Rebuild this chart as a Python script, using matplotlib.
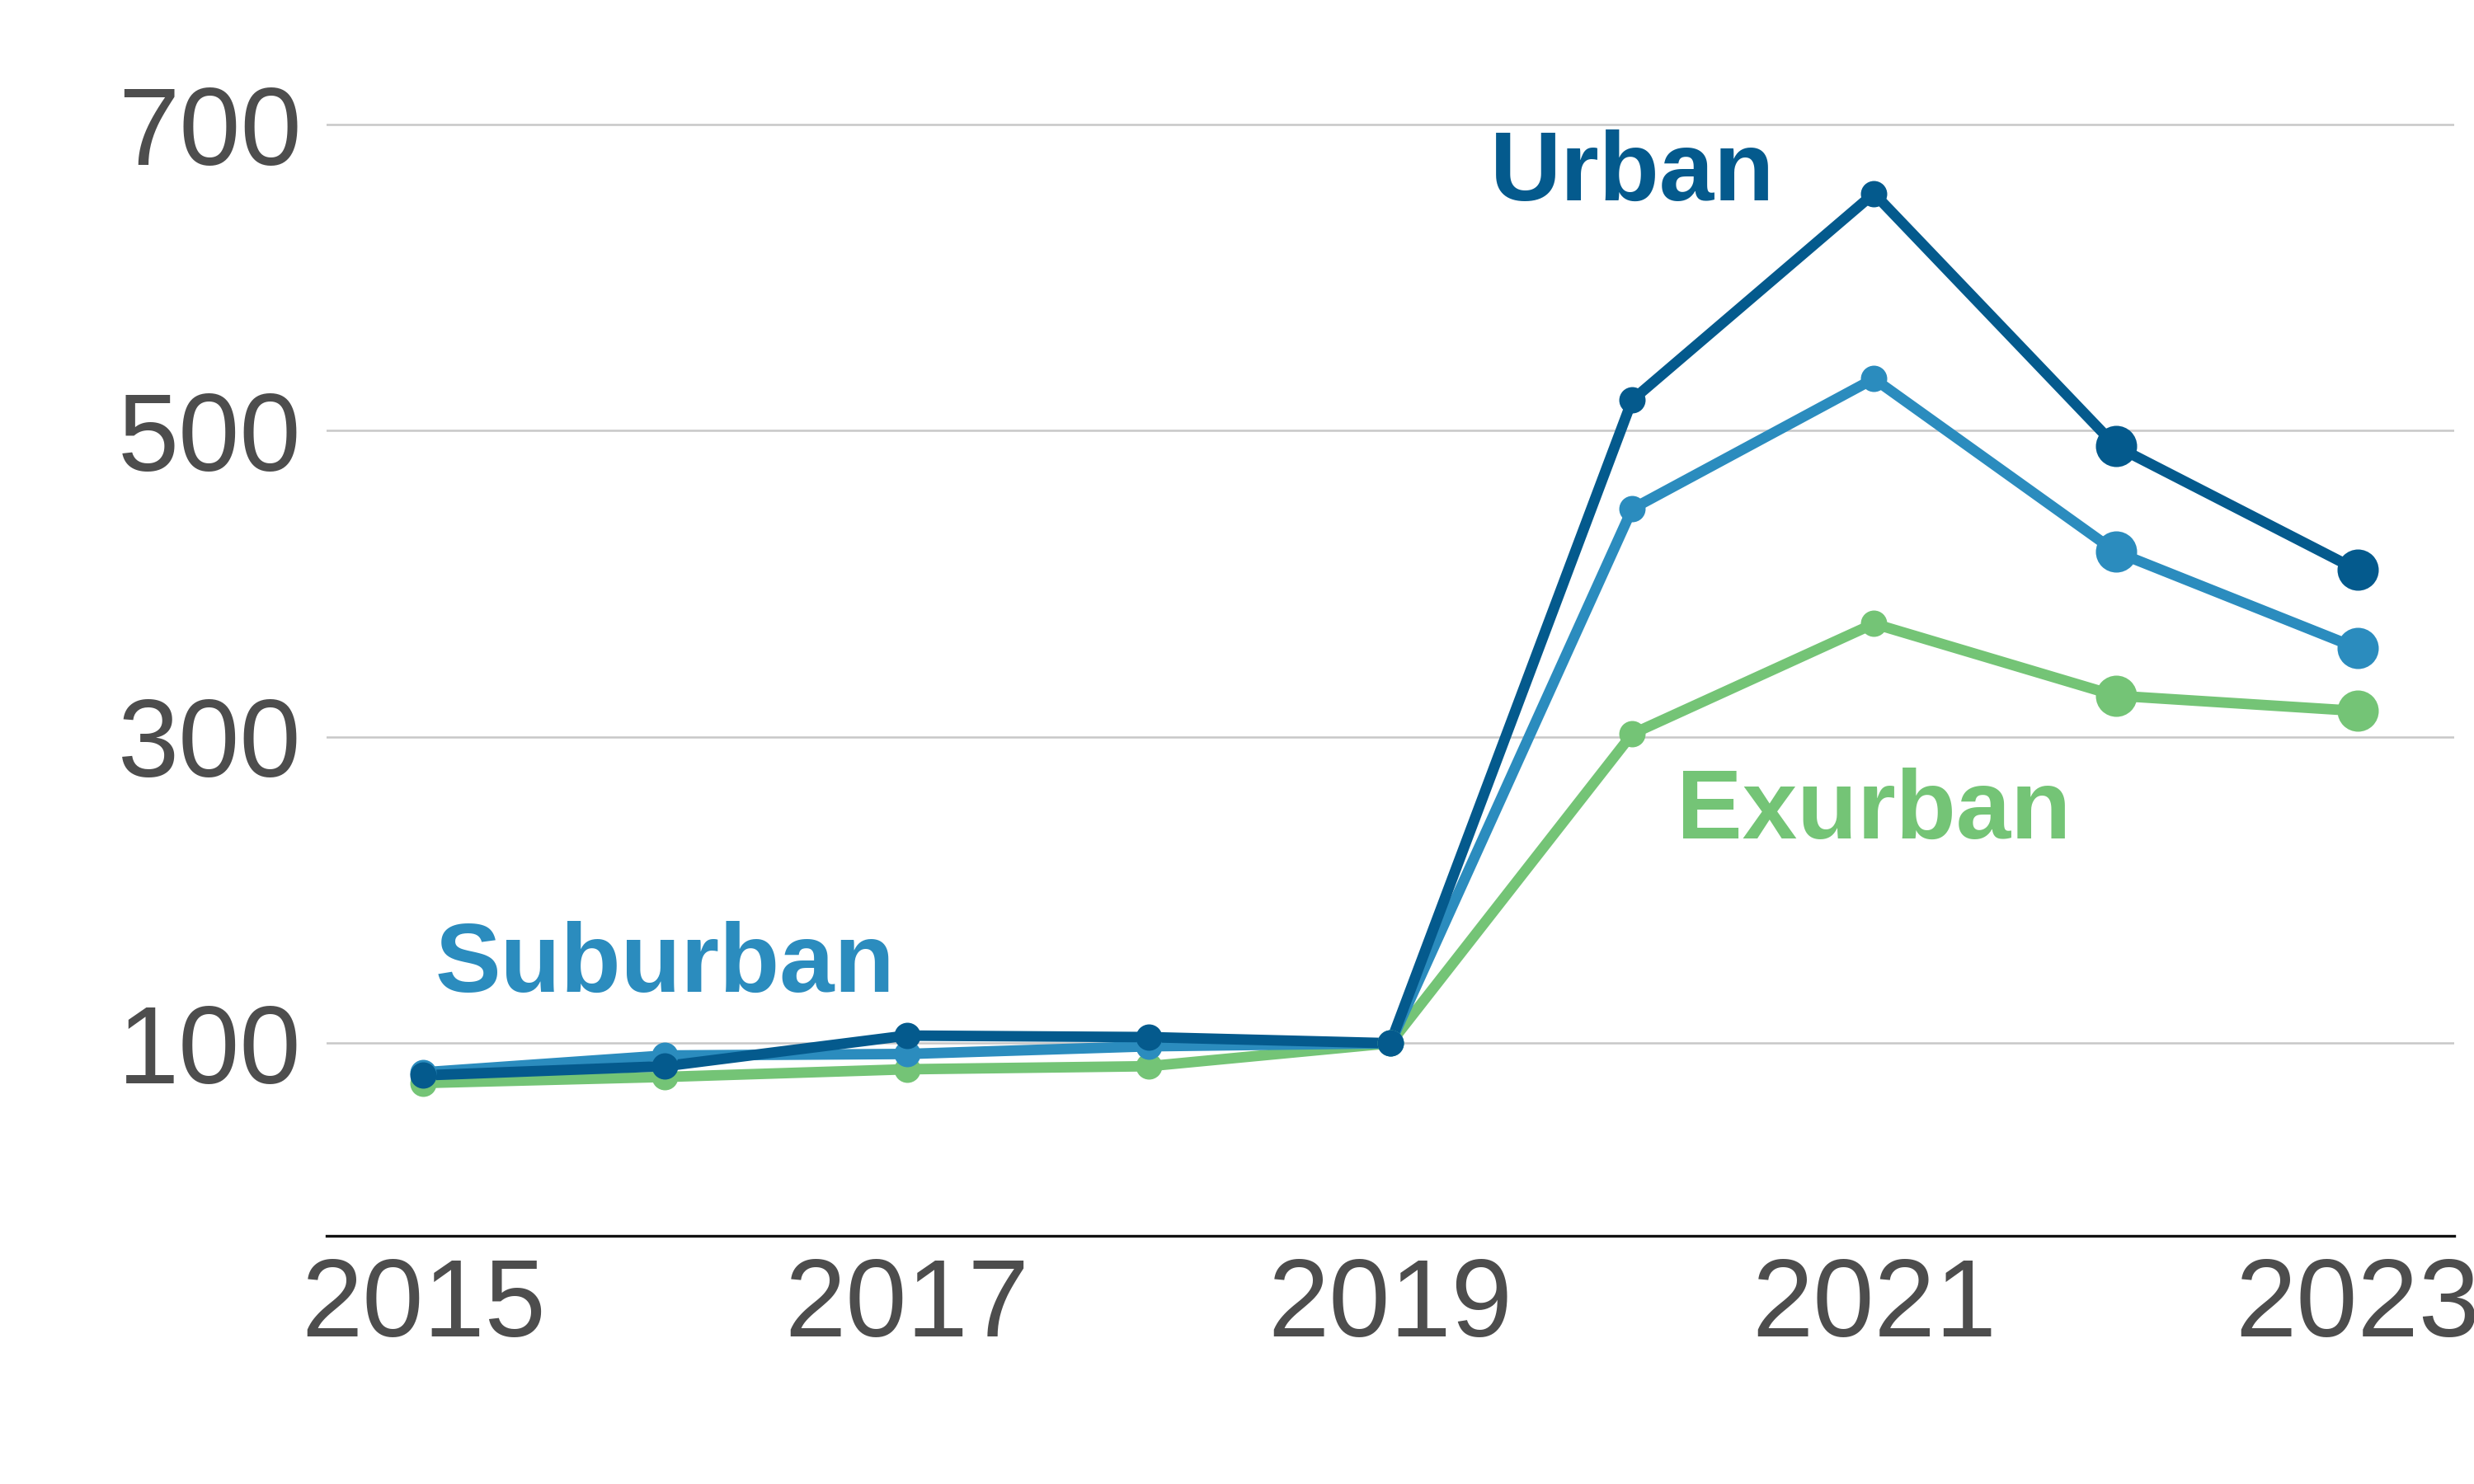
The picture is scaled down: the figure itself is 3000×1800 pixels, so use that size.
import matplotlib.pyplot as plt
import numpy as np

years = [2015, 2016, 2017, 2018, 2019, 2020, 2021, 2022, 2023]
urban = [79, 85, 105, 104, 100, 520, 655, 490, 409]
suburban = [81, 92, 93, 98, 100, 449, 534, 421, 358]
exurban = [74, 78, 83, 85, 100, 302, 374, 327, 317]

series = [
    ('Exurban', exurban, '#74c476', (2021.0, 250)),
    ('Suburban', suburban, '#2b8cbe', (2016.0, 150)),
    ('Urban', urban, '#045a8d', (2020.0, 667)),
]

plt.rcParams['font.family'] = ['Liberation Sans', 'DejaVu Sans']

fig = plt.figure(figsize=(15, 9), dpi=200)
ax = fig.add_axes([0.132, 0.167, 0.86, 0.811])

x = np.array(years)
for name, vals, col, (tx, ty) in series:
    v = np.array(vals)
    ax.plot(x, v, color=col, lw=4.6, solid_capstyle='round', zorder=3)
    ax.plot(x[:-2], v[:-2], 'o', color=col, ms=10.5, zorder=4)
    ax.plot(x[-2:], v[-2:], 'o', color=col, ms=17, zorder=4)
    ax.text(tx, ty, name, color=col, fontsize=43, fontweight='bold',
            ha='center', va='center', zorder=5)

ax.set_xlim(2014.6, 2023.4)
ax.set_ylim(-26, 760)
ax.set_yticks([100, 300, 500, 700])
ax.set_xticks([2015, 2017, 2019, 2021, 2023])
ax.grid(axis='y', color='#c8c8c8', lw=0.9, zorder=0)
ax.grid(axis='x', visible=False)
for s in ['top', 'right', 'left']:
    ax.spines[s].set_visible(False)
ax.spines['bottom'].set_color('#111111')
ax.spines['bottom'].set_linewidth(1.2)
ax.tick_params(length=0, labelsize=48, labelcolor='#4d4d4d')
ax.tick_params(axis='y', pad=11)
ax.tick_params(axis='x', pad=9)

fig.savefig('out.png', dpi=200)
